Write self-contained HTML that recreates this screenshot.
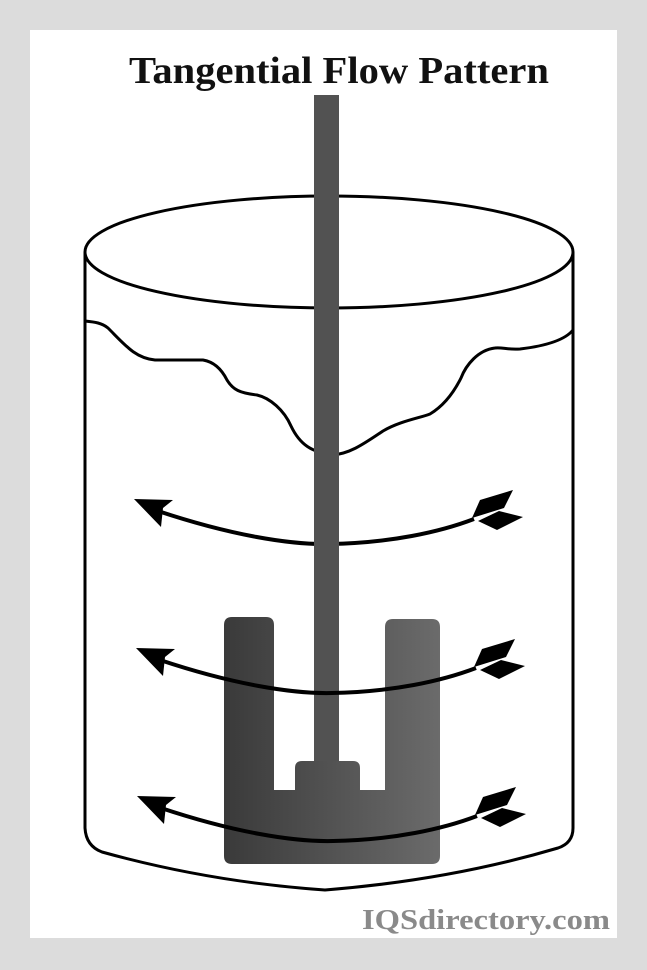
<!DOCTYPE html>
<html><head><meta charset="utf-8"><style>
html,body{margin:0;padding:0;background:#dcdcdc;}
svg{display:block;}
</style></head><body>
<svg width="647" height="970" viewBox="0 0 647 970" xmlns="http://www.w3.org/2000/svg">
<defs>
<linearGradient id="g" x1="224" y1="0" x2="440" y2="0" gradientUnits="userSpaceOnUse">
<stop offset="0" stop-color="#3a3a3a"/><stop offset="1" stop-color="#6b6b6b"/>
</linearGradient>
<g id="arr">
<path d="M158,511 C230,535 290,545 330,544 C390,543 440,532 474,519" fill="none" stroke="#000" stroke-width="4"/>
<polygon points="134,499 173,500 163,508 161,527" fill="#000"/>
<polygon points="472,518 480,500 513,490 504,508" fill="#000"/>
<polygon points="478,521 499,511 523,517 497,530" fill="#000"/>
</g>
</defs>
<rect x="30" y="30" width="587" height="908" fill="#fff"/>
<text x="339" y="83" text-anchor="middle" font-family="'Liberation Serif',serif" font-weight="bold" font-size="38" textLength="420" lengthAdjust="spacingAndGlyphs" fill="#111">Tangential Flow Pattern</text>
<ellipse cx="329" cy="252" rx="244" ry="56" fill="none" stroke="#000" stroke-width="3"/>
<path d="M85,252 L85,828 Q86,846 102,852 Q210,882 325,890 Q450,880 558,848 Q573,843 573,828 L573,252" fill="none" stroke="#000" stroke-width="3"/>
<path d="M85,321 C95,322 102,323 108,328 C125,345 135,358 155,360 L203,360 C215,362 222,370 227,380 C233,390 240,393 257,395 C270,398 284,410 291,426 C300,445 312,452 332,455 C350,454 365,443 383,431 C400,421 420,418 430,414 C445,405 455,390 461,378 C466,365 478,350 495,348 C502,347 508,350 520,349 C545,346 565,340 573,330" fill="none" stroke="#000" stroke-width="3"/>
<use href="#arr"/>
<rect x="314" y="95" width="25" height="670" fill="#525252"/>
<path d="M232,617 L266,617 Q274,617 274,625 L274,790 L295,790 L295,768 Q295,761 302,761 L353,761 Q360,761 360,768 L360,790 L385,790 L385,627 Q385,619 393,619 L432,619 Q440,619 440,627 L440,856 Q440,864 432,864 L232,864 Q224,864 224,856 L224,625 Q224,617 232,617 Z" fill="url(#g)"/>
<use href="#arr" transform="translate(2,149)"/>
<use href="#arr" transform="translate(3,297)"/>
<text x="610" y="929" text-anchor="end" font-family="'Liberation Serif',serif" font-weight="bold" font-size="29" textLength="248" lengthAdjust="spacingAndGlyphs" fill="#8a8a8a">IQSdirectory.com</text>
</svg>
</body></html>
